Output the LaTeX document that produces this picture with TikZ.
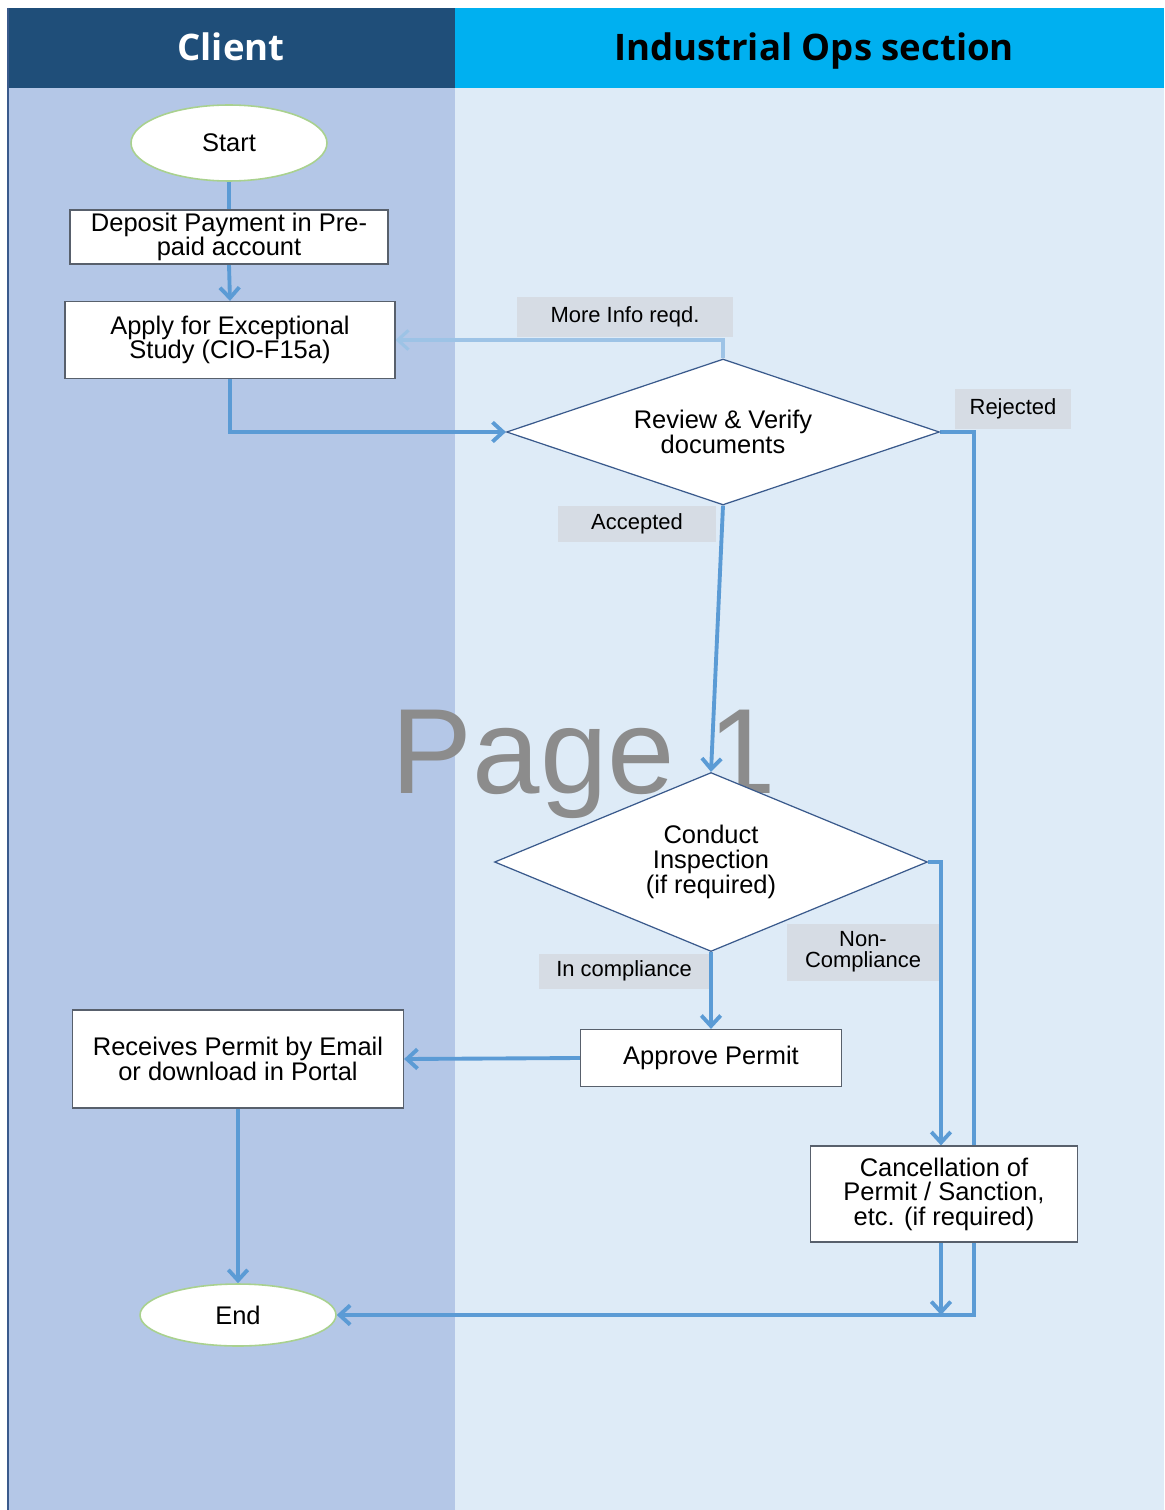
\documentclass[tikz,border=0pt]{standalone}
\usepackage{fontspec}
\setmainfont{Liberation Sans}
\newfontfamily\headfont{Open Sans}
\usetikzlibrary{shapes.geometric,arrows.meta}
\definecolor{laneDark}{HTML}{1F4E79}
\definecolor{laneCyan}{HTML}{00B0F0}
\definecolor{laneLeft}{HTML}{B4C7E7}
\definecolor{laneRight}{HTML}{DEEBF7}
\definecolor{flowBlue}{HTML}{5B9BD5}
\definecolor{flowLight}{HTML}{9DC3E6}
\definecolor{tagGray}{HTML}{D6DCE4}
\definecolor{boxEdge}{HTML}{58606C}
\definecolor{diaEdge}{HTML}{3A5A8C}
\definecolor{termEdge}{HTML}{A9D18E}
\pgfdeclarelayer{lanes}
\pgfdeclarelayer{lines}
\pgfsetlayers{lanes,lines,main}

\begin{document}
\begin{tikzpicture}[x=0.02cm,y=-0.02cm,
  every node/.style={font=\fontsize{14.5}{14}\selectfont},
  procbox/.style={draw=boxEdge,line width=0.7pt,fill=white,inner sep=0pt,align=center},
  decision/.style={diamond,draw=diaEdge,line width=0.7pt,fill=white,inner sep=0pt,align=center},
  terminal/.style={ellipse,draw=termEdge,line width=0.9pt,fill=white,inner sep=0pt},
  tag/.style={fill=tagGray,inner sep=0pt,align=center,font=\fontsize{12.5}{12}\selectfont},
  lanehead/.style={anchor=base,font=\headfont\bfseries\fontsize{20.8}{22}\selectfont},
  flow/.style={draw=flowBlue,line width=2.2pt,-{Straight Barb[length=6pt,width=11pt]}},
  plainflow/.style={draw=flowBlue,line width=2.2pt}]
\useasboundingbox (0,0) rectangle (1164,1510);
\begin{pgfonlayer}{lanes}
\fill[white] (0,0) rectangle (1164,1510);
\fill[laneLeft] (8,88) rectangle (455,1510);
\fill[laneRight] (455,88) rectangle (1164,1510);
\fill[laneDark] (8,8) rectangle (455,88);
\fill[laneCyan] (455,8) rectangle (1164,88);
\draw[line width=1pt,color=diaEdge] (8,8) -- (8,1510);
\node[lanehead,text=white] (clienthead) at (231,61) {Client};
\node[lanehead,text=black] (opshead) at (814,61) {Industrial Ops section};
\node[text=black!45,font=\fontsize{69}{70}\selectfont,anchor=base] (watermark) at (584,793) {Page 1};
\end{pgfonlayer}

\node[terminal,minimum width=3.92cm,minimum height=1.52cm] (start) at (229,143) {Start};
\node[procbox,minimum width=6.36cm,minimum height=1.08cm] (deposit) at (229,237) {Deposit Payment in Pre-\\paid account};
\node[procbox,minimum width=6.6cm,minimum height=1.54cm] (apply) at (230,340) {Apply for Exceptional\\Study (CIO-F15a)};
\node[decision,aspect=2.97,minimum width=8.66cm,minimum height=2.92cm] (review) at (723,432) {Review \& Verify\\documents};
\node[decision,aspect=2.42,minimum width=8.66cm,minimum height=3.58cm] (inspect) at (711,862) {Conduct\\Inspection\\(if required)};
\node[procbox,minimum width=5.22cm,minimum height=1.14cm] (approve) at (711,1058) {Approve Permit};
\node[procbox,minimum width=6.62cm,minimum height=1.96cm] (receive) at (238,1059) {Receives Permit by Email\\or download in Portal};
\node[procbox,minimum width=5.34cm,minimum height=1.92cm] (cancel) at (944,1194) {Cancellation of\\Permit / Sanction,\\etc. (if required)};
\node[terminal,minimum width=3.92cm,minimum height=1.24cm] (finish) at (238,1315) {End};

\node[tag,minimum width=4.32cm,minimum height=0.8cm] (moreinfo) at (625,317) {More Info reqd.};
\node[tag,minimum width=2.32cm,minimum height=0.82cm] (rejected) at (1013,409) {Rejected};
\node[tag,minimum width=3.16cm,minimum height=0.72cm] (accepted) at (637,524) {Accepted};
\node[tag,minimum width=3.42cm,minimum height=0.7cm] (comply) at (624,971) {In compliance};
\node[tag,minimum width=3.04cm,minimum height=1.14cm] (noncomply) at (863,952) {Non-\\Compliance};

\coordinate (rejturn) at (974,432);
\coordinate (ncturn) at (941,862);

\begin{pgfonlayer}{lines}
\draw[plainflow] (start.south) -- (deposit.north);
\draw[flow] (deposit.south) -- (apply.north);
\draw[flow] (apply.south) |- (review.west);
\draw[flow,draw=flowLight,line width=1.8pt] (review.north) |- (apply.east);
\draw[flow] (review.south) -- (inspect.north);
\draw[flow] (review.east) -- (rejturn) |- (finish.east);
\draw[flow] (inspect.east) -- (ncturn) -- (ncturn |- cancel.north);
\draw[flow] (inspect.south) -- (approve.north);
\draw[flow] (approve.west) -- (receive.east);
\draw[flow] (receive.south) -- (finish.north);
\draw[flow] (ncturn |- cancel.south) -- (ncturn |- finish.east);
\end{pgfonlayer}
\end{tikzpicture}
\end{document}
